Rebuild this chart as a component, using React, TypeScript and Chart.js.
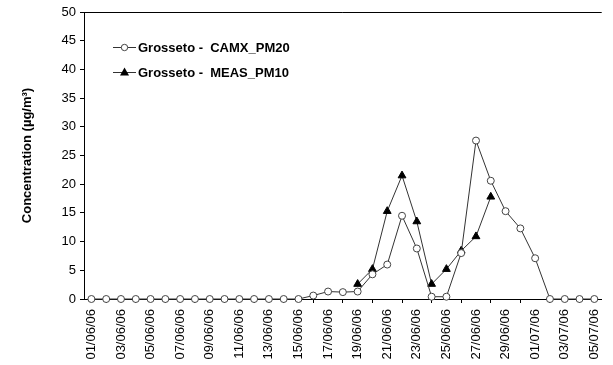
import React, { useEffect, useRef } from "react";
import { Chart, registerables } from "chart.js";

Chart.register(...registerables);

// Daily dates, 1 June to 5 July 2006
const dates = [
  "01/06/06", "02/06/06", "03/06/06", "04/06/06", "05/06/06", "06/06/06", "07/06/06",
  "08/06/06", "09/06/06", "10/06/06", "11/06/06", "12/06/06", "13/06/06", "14/06/06",
  "15/06/06", "16/06/06", "17/06/06", "18/06/06", "19/06/06", "20/06/06", "21/06/06",
  "22/06/06", "23/06/06", "24/06/06", "25/06/06", "26/06/06", "27/06/06", "28/06/06",
  "29/06/06", "30/06/06", "01/07/06", "02/07/06", "03/07/06", "04/07/06", "05/07/06",
];

// Modelled PM (CAMx), µg/m³
const camxPM20 = [
  0, 0, 0, 0, 0, 0, 0, 0, 0, 0, 0, 0, 0, 0, 0,
  0.6, 1.3, 1.2, 1.3, 4.3, 6.0, 14.5, 8.8, 0.4, 0.4, 8.0, 27.6, 20.6, 15.3, 12.3,
  7.1, 0, 0, 0, 0,
];

// Measured PM10, µg/m³ (only available 19/06 – 28/06)
const measPM10 = [
  null, null, null, null, null, null, null, null, null, null, null, null, null, null, null,
  null, null, null, 2.6, 5.2, 15.3, 21.5, 13.5, 2.6, 5.2, 8.4, 10.9, 17.8,
  null, null, null, null, null, null, null,
];

const seriesNames = ["Grosseto -  CAMX_PM20", "Grosseto -  MEAS_PM10"];
const yTitle = "Concentration (µg/m³)";

const FONT = "'Liberation Sans', Arial, sans-serif";

// Top frame line of the plot area and the in-plot legend
const framePlugin = {
  id: "frameAndLegend",
  afterDatasetsDraw(chart: any) {
    const { ctx, chartArea } = chart;
    ctx.save();
    ctx.strokeStyle = "#000";
    ctx.lineWidth = 1;
    ctx.beginPath();
    ctx.moveTo(chartArea.left, chartArea.top + 0.5);
    ctx.lineTo(chartArea.right, chartArea.top + 0.5);
    ctx.stroke();

    const rows = [47, 72];
    chart.data.datasets.forEach((ds: any, i: number) => {
      const y = rows[i];
      ctx.strokeStyle = "#333";
      ctx.lineWidth = 1;
      ctx.beginPath();
      ctx.moveTo(113, y + 0.5);
      ctx.lineTo(136, y + 0.5);
      ctx.stroke();
      const cx = 124.5;
      if (ds.pointStyle === "triangle") {
        const r = 4.5;
        ctx.fillStyle = "#000";
        ctx.beginPath();
        ctx.moveTo(cx, y - r);
        ctx.lineTo(cx + r, y + r * 0.75);
        ctx.lineTo(cx - r, y + r * 0.75);
        ctx.closePath();
        ctx.fill();
      } else {
        ctx.fillStyle = "#fff";
        ctx.strokeStyle = "#444";
        ctx.beginPath();
        ctx.arc(cx, y + 0.5, 3.2, 0, Math.PI * 2);
        ctx.fill();
        ctx.stroke();
      }
      ctx.fillStyle = "#000";
      ctx.font = `bold 13px ${FONT}`;
      ctx.textBaseline = "middle";
      ctx.textAlign = "left";
      ctx.fillText(ds.label, 138, y + 1);
    });
    ctx.restore();
  },
};

export default function App() {
  const ref = useRef<HTMLCanvasElement>(null);

  useEffect(() => {
    if (!ref.current) return;
    const chart = new Chart(ref.current, {
      type: "line",
      data: {
        labels: dates,
        datasets: [
          {
            label: seriesNames[0],
            data: camxPM20,
            borderColor: "#333",
            borderWidth: 1,
            pointStyle: "circle",
            pointRadius: 3.5,
            pointBackgroundColor: "#fff",
            pointBorderColor: "#444",
            pointBorderWidth: 1,
            tension: 0,
            clip: false,
          },
          {
            label: seriesNames[1],
            data: measPM10,
            borderColor: "#333",
            borderWidth: 1,
            pointStyle: "triangle",
            pointRadius: 4.5,
            pointBackgroundColor: "#000",
            pointBorderColor: "#000",
            pointBorderWidth: 1,
            tension: 0,
            spanGaps: false,
            clip: false,
          },
        ],
      },
      options: {
        responsive: false,
        animation: false,
        layout: { padding: { top: 12, right: 0, left: 20, bottom: 0 } },
        plugins: {
          legend: { display: false },
          tooltip: { enabled: false },
        },
        scales: {
          x: {
            type: "category",
            offset: true,
            grid: {
              offset: true,
              drawOnChartArea: false,
              drawTicks: true,
              tickLength: 4,
              color: "#000",
            },
            border: { display: true, color: "#000", width: 1 },
            ticks: {
              autoSkip: false,
              minRotation: 90,
              maxRotation: 90,
              padding: 6,
              color: "#000",
              font: { family: FONT, size: 13 },
              callback: (_v: any, i: number) => (i % 2 === 0 ? dates[i] : null),
            },
            afterFit: (s: any) => {
              s.height = 66;
            },
          },
          y: {
            min: 0,
            max: 50,
            grid: {
              drawOnChartArea: false,
              drawTicks: true,
              tickLength: 4,
              color: "#000",
            },
            border: { display: true, color: "#000", width: 1 },
            ticks: {
              stepSize: 5,
              padding: 4,
              color: "#000",
              font: { family: FONT, size: 13 },
            },
            title: {
              display: true,
              text: yTitle,
              color: "#000",
              font: { family: FONT, size: 13, weight: "bold" },
              padding: { top: 0, bottom: 0 },
            },
            afterFit: (s: any) => {
              s.width = 64;
            },
          },
        },
      },
      plugins: [framePlugin],
    });
    return () => chart.destroy();
  }, []);

  return (
    <div
      style={{
        position: "fixed",
        left: 0,
        top: 0,
        width: 613,
        height: 365,
        overflow: "hidden",
        background: "#fff",
      }}
    >
      <canvas ref={ref} width={616} height={365} />
    </div>
  );
}
